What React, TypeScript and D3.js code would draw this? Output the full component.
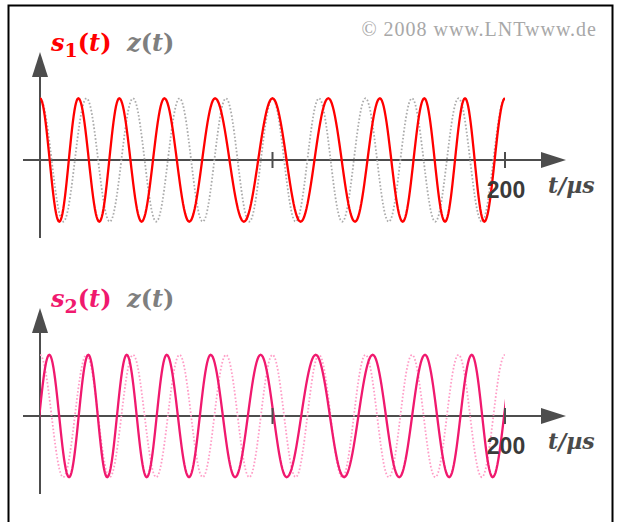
import React from "react";
import * as d3 from "d3";

// Zeitachse in µs, Teilstriche und Beschriftung
const timeDomain = [0, 200];
const timeTicks = [100, 200];
const tickLabels = ["", "200"];

// Träger z(t): Extremstellen (µs), beginnt mit Maximum
const zExtrema = [0, 10, 20, 30, 40, 50, 60, 70, 80, 90, 100, 110, 120, 130, 140, 150, 160, 170, 180, 190, 200];

// s1(t): Extremstellen (µs), beginnt mit Maximum
const s1Extrema = [0, 8.3, 16.5, 25.5, 34.1, 43.7, 53.5, 64.2, 75.3, 87.7, 100, 112.1, 124, 135.5, 146.2, 156, 165.3, 174.2, 182.8, 191.1, 200];

// s2(t): Extremstellen (µs), beginnt (vor t = 0) mit Minimum
const s2Extrema = [-4.6, 4.0, 12.5, 20.8, 28.9, 37.3, 45.9, 54.5, 64.1, 73.4, 83.9, 94.9, 106.1, 118.6, 130.8, 143.1, 154.5, 165.6, 176.0, 185.7, 194.7, 204.5];

const panels = [
  { name: "s", sub: "1", color: "#ff0000", zColor: "#ababab", signal: s1Extrema, firstSign: 1, center: 160, amp: 61.7 },
  { name: "s", sub: "2", color: "#f0196e", zColor: "#ff9cc6", signal: s2Extrema, firstSign: -1, center: 416, amp: 61.2 },
];

// Kurve aus Extremstellen: zwischen zwei Extremen ein halber Kosinusbogen
const sampleCurve = (times: number[], firstSign: number) => {
  const pts: [number, number][] = [];
  const n = 24;
  for (let k = 0; k < times.length - 1; k++) {
    const sign = k % 2 === 0 ? firstSign : -firstSign;
    for (let j = 0; j < n; j++) {
      const t = times[k] + ((times[k + 1] - times[k]) * j) / n;
      pts.push([t, sign * Math.cos((Math.PI * j) / n)]);
    }
  }
  const lastSign = (times.length - 1) % 2 === 0 ? firstSign : -firstSign;
  pts.push([times[times.length - 1], lastSign]);
  return pts;
};

const x = d3.scaleLinear().domain(timeDomain).range([40, 505]);

const serif = "'Liberation Serif', 'Times New Roman', serif";
const labelFont = "'DejaVu Serif', serif";
const axisColor = "#4d4d4d";

const Panel = ({ p, idx }: { p: (typeof panels)[number]; idx: number }) => {
  const y = d3.scaleLinear().domain([-1, 1]).range([p.center + p.amp, p.center - p.amp]);
  const line = d3
    .line<[number, number]>()
    .x((d) => x(d[0]))
    .y((d) => y(d[1]));
  const x0 = x(0);
  const yAxisTop = y(0) - 108;
  const yAxisBottom = y(0) + 78;
  const xAxisStart = x0 - 17;
  const xTip = 566;
  const arrowLen = 25;
  const arrowHalf = 8;
  const clipId = `clip${idx}`;
  return (
    <g>
      <defs>
        <clipPath id={clipId}>
          <rect x={x(timeDomain[0])} y={p.center - 100} width={x(timeDomain[1]) - x(timeDomain[0])} height={200} />
        </clipPath>
      </defs>
      {/* Achsen */}
      <line x1={x0} x2={x0} y1={yAxisTop + arrowLen - 2} y2={yAxisBottom} stroke={axisColor} strokeWidth={2} />
      <path
        d={`M${x0},${yAxisTop} L${x0 - arrowHalf},${yAxisTop + arrowLen} L${x0 + arrowHalf},${yAxisTop + arrowLen} Z`}
        fill={axisColor}
      />
      <line x1={xAxisStart} x2={xTip - arrowLen + 2} y1={y(0)} y2={y(0)} stroke={axisColor} strokeWidth={2} />
      <path
        d={`M${xTip},${y(0)} L${xTip - arrowLen},${y(0) - arrowHalf} L${xTip - arrowLen},${y(0) + arrowHalf} Z`}
        fill={axisColor}
      />
      {/* Kurven */}
      <g clipPath={`url(#${clipId})`}>
        <path
          d={line(sampleCurve(zExtrema, 1)) ?? ""}
          fill="none"
          stroke={p.zColor}
          strokeWidth={1.8}
          strokeDasharray="1.6 2"
        />
        <path d={line(sampleCurve(p.signal, p.firstSign)) ?? ""} fill="none" stroke={p.color} strokeWidth={2.3} />
      </g>
      {/* Teilstriche */}
      {timeTicks.map((t, i) => (
        <g key={t}>
          <line x1={x(t)} x2={x(t)} y1={y(0) - 8} y2={y(0) + 8} stroke={axisColor} strokeWidth={2} />
          {tickLabels[i] && (
            <text
              x={x(t) + 1}
              y={y(0) + 38}
              textAnchor="middle"
              fontFamily="'Liberation Sans', Arial, sans-serif"
              fontWeight="bold"
              fontSize={23}
              fill="#3a3a3a"
            >
              {tickLabels[i]}
            </text>
          )}
        </g>
      ))}
      <text x={548} y={y(0) + 33} fontFamily={labelFont} fontStyle="italic" fontWeight="bold" fontSize={22} fill="#4a4a4a">
        t/µs
      </text>
      {/* Legende */}
      <text x={51} y={y(0) - 109} fontFamily={labelFont} fontWeight="bold" fontSize={24} fill={p.color}>
        <tspan fontStyle="italic">{p.name}</tspan>
        <tspan fontSize={19} dy={6}>
          {p.sub}
        </tspan>
        <tspan dy={-6}>(</tspan>
        <tspan fontStyle="italic">t</tspan>
        <tspan>)</tspan>
      </text>
      <text x={127} y={y(0) - 109} fontFamily={labelFont} fontWeight="bold" fontSize={24} fill="#7f7f7f">
        <tspan fontStyle="italic">z</tspan>
        <tspan>(</tspan>
        <tspan fontStyle="italic">t</tspan>
        <tspan>)</tspan>
      </text>
    </g>
  );
};

export default function App() {
  return (
    <svg
      width={621}
      height={522}
      style={{ position: "absolute", left: 0, top: 0, background: "#fff" }}
    >
      <rect x={8.5} y={5.5} width={604} height={540} fill="#fff" stroke="#000" strokeWidth={2} />
      <text x={597} y={36} textAnchor="end" fontFamily={serif} fontSize={20} letterSpacing={1} fill="#a8a8a8">
        © 2008 www.LNTwww.de
      </text>
      {panels.map((p, i) => (
        <Panel key={i} p={p} idx={i} />
      ))}
    </svg>
  );
}
